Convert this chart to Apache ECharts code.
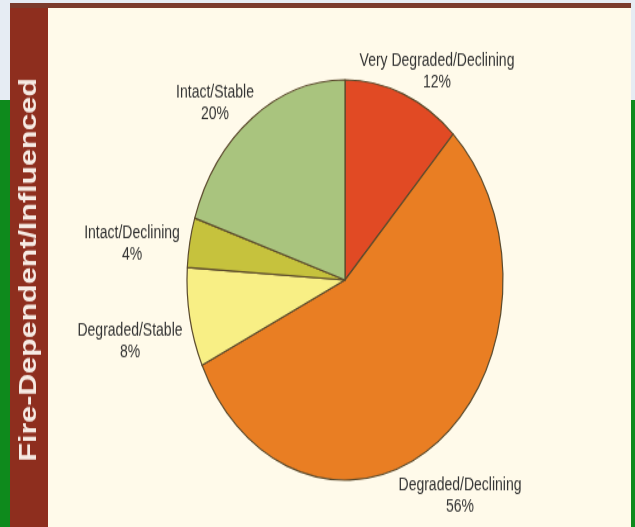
<!DOCTYPE html>
<html>
<head>
<meta charset="utf-8">
<script src="https://cdn.jsdelivr.net/npm/echarts@6/dist/echarts.min.js"></script>
<style>
  html, body { margin: 0; padding: 0; }
  body { width: 635px; height: 527px; position: relative; overflow: hidden; background: #e6ecf3; }
  .bg-green { position: absolute; top: 100px; bottom: 0; background: #0e8a1c; }
  .bg-top { position: absolute; left: 10px; right: 4px; top: 3px; height: 5px; background: #7b3b2c; }
  .band { position: absolute; left: 10px; top: 3px; width: 38px; bottom: 0; background: #8e2e1e; }
  .panel { position: absolute; left: 48px; right: 4px; top: 8px; bottom: 0; background: #fffaea; }
  .chart { position: absolute; left: 0; top: 0; width: 635px; height: 416px; transform: scaleY(1.2668); transform-origin: 0 0; }
</style>
</head>
<body>
  <div class="bg-green" style="left:0;width:10px"></div>
  <div class="bg-green" style="right:0;width:4px"></div>
  <div class="band"></div>
  <div class="bg-top"></div>
  <div class="panel"></div>
  <div class="chart" id="main"></div>

<script>
// share of each condition class, read clockwise from 12 o'clock
const categories = ['Very Degraded/Declining', 'Degraded/Declining', 'Degraded/Stable', 'Intact/Declining', 'Intact/Stable']
const shares = [12, 56, 8, 4, 20]
const sideTitle = 'Fire-Dependent/Influenced'

const palette = ['#e14a24', '#e97e23', '#f8ef85', '#c6c23d', '#a9c47e']

// the picture is stretched vertically, so the chart is drawn squat and scaled up by css
const stretch = 527 / 416
// where each label block sits on the page (centre of the two lines)
const labelSpots = [[437, 72], [460, 496], [130, 341], [132, 244], [215, 104]]

const chart = echarts.init(document.getElementById('main'))

const option = {
    animation: false,
    color: palette,
    graphic: [
        {
            type: 'text',
            x: 29,
            y: 213,
            rotation: Math.PI / 2,
            style: {
                text: sideTitle,
                fill: '#f6ebe4',
                font: 'bold 24px "Liberation Sans", Arial, sans-serif',
                align: 'center',
                verticalAlign: 'middle'
            }
        }
    ],
    series: [
        {
            type: 'pie',
            center: [345, 221],
            radius: 158,
            startAngle: 90,
            clockwise: true,
            label: {
                show: true,
                position: 'outside',
                formatter: '{b}\n{d}%',
                align: 'center',
                color: '#333',
                fontFamily: '"Liberation Sans Narrow", "Liberation Sans", sans-serif',
                fontSize: 14,
                lineHeight: 17
            },
            labelLine: { show: false },
            labelLayout: (params) => {
                const spot = labelSpots[params.dataIndex]
                return {
                    x: spot[0],
                    y: spot[1] / stretch,
                    align: 'center',
                    verticalAlign: 'middle'
                }
            },
            itemStyle: {
                borderColor: '#5b4a2c',
                borderWidth: 1.2
            },
            data: categories.map((name, i) => ({ name: name, value: shares[i] }))
        }
    ]
}
chart.setOption(option)
</script>
</body>
</html>
